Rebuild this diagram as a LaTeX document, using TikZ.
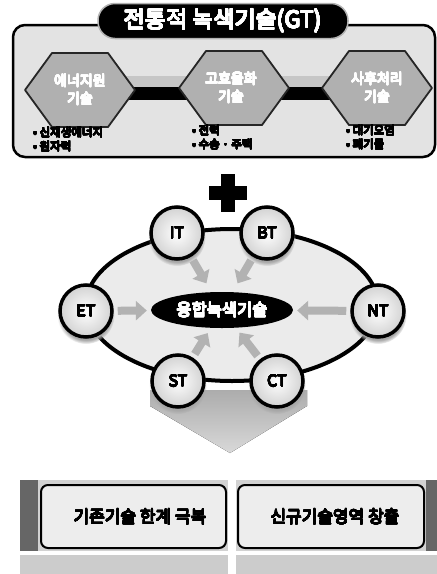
\documentclass[tikz,border=0pt]{standalone}
\usepackage{fontspec}
\setmainfont{Noto Sans CJK KR}
\usepackage{contour}
\contournumber{24}
\newcommand\bk[1]{\contourlength{0.35pt}\contour{black}{#1}}
\newcommand\wt[1]{\contourlength{0.35pt}\contour{white}{#1}}
\usetikzlibrary{shapes.geometric,arrows.meta,calc,shadows}
\begin{document}
\begin{tikzpicture}[x=1pt,y=-1pt,
  bigframe/.style={draw=black,line width=2.5pt,rounded corners=12pt,fill=gray!22},
  titlepill/.style={rectangle,rounded corners=17pt,fill=black,draw=gray!60,line width=1.5pt,text=white,
    minimum width=250pt,minimum height=35pt,font=\fontsize{23}{25}\selectfont},
  hexshape/.style={fill=gray!62,draw=black!85,line width=1.8pt,line join=round},
  hextext/.style={text=white,align=center,font=\fontsize{14}{18}\selectfont},
  tube/.style={fill=black},
  tubetop/.style={fill=gray!45},
  bullets/.style={anchor=north west,align=left,font=\fontsize{11.5}{14}\selectfont,inner sep=0pt},
  ringline/.style={draw=black,line width=4pt,fill=gray!16},
  techc/.style={circle,draw=black,line width=3.5pt,minimum size=52pt,inner sep=0pt,
    inner color=white,outer color=gray!35,font=\fontsize{16}{18}\selectfont,
    circular drop shadow={shadow xshift=0pt,shadow yshift=-4pt,fill=gray!70,opacity=1}},
  fusion/.style={ellipse,fill=black,text=white,minimum width=142pt,minimum height=36pt,inner sep=0pt,
    font=\fontsize{16.5}{18}\selectfont},
  garrow/.style={draw=gray!60,line width=8pt,-{Triangle[width=19pt,length=11pt]}},
  chevron/.style={top color=gray!65,bottom color=gray!30},
  outerbox/.style={fill=gray!35},
  darkbar/.style={fill=gray!80!black},
  innerbox/.style={draw=black,line width=2pt,rounded corners=7pt,fill=gray!14},
  boxtext/.style={font=\fontsize{17}{19}\selectfont},
  strip/.style={fill=gray!40}
]
\useasboundingbox (0,0) rectangle (437,574);
\fill[white] (0,0) rectangle (437,574);

% ---------- top: traditional green technology ----------
\draw[bigframe] (13,25) rectangle (435,157);
\node[titlepill] (T) at (223,21) {\wt{전통적 녹색기술(GT)}};

% tubes between hexagons
\fill[tubetop] (120,76) rectangle (200,87);
\fill[tube] (120,87) rectangle (200,100);
\fill[tubetop] (275,76) rectangle (345,87);
\fill[tube] (275,87) rectangle (345,100);

% hexagons
\begin{scope}[shift={(80,90)}]
\draw[hexshape] (-55,0)--(-28,-37)--(28,-37)--(55,0)--(28,37)--(-28,37)--cycle;
\end{scope}
\begin{scope}[shift={(234,88)}]
\draw[hexshape] (-55,0)--(-28,-37)--(28,-37)--(55,0)--(28,37)--(-28,37)--cycle;
\end{scope}
\begin{scope}[shift={(377,88)}]
\draw[hexshape] (-55,0)--(-28,-37)--(28,-37)--(55,0)--(28,37)--(-28,37)--cycle;
\end{scope}
\node[hextext] (h1) at (80,90) {\wt{에너지원}\\\wt{기술}};
\node[hextext] (h2) at (231,88) {\wt{고효율화}\\\wt{기술}};
\node[hextext] (h3) at (377,88) {\wt{사후처리}\\\wt{기술}};

\node[bullets] (b1) at (33,127) {\bk{• 신재생에너지}\\\bk{• 원자력}};
\node[bullets] (b2) at (192,125) {\bk{• 전력}\\\bk{• 수송 · 주택}};
\node[bullets] (b3) at (346,125) {\bk{• 대기오염}\\\bk{• 폐기물}};

% ---------- plus ----------
\fill[black] (221,174) rectangle (235,212);
\fill[black] (209,186) rectangle (247,200);

% ---------- down chevron ----------
\fill[chevron] (150,390) -- (307,390) -- (307,406) -- (230,453) -- (150,406) -- cycle;

% ---------- convergence ring ----------
\draw[ringline] (232,305) ellipse [x radius=146, y radius=76];
\node[fusion] (F) at (222,310) {\wt{융합녹색기술}};

\node[techc] (IT) at (177,233) {\bk{IT}};
\node[techc] (BT) at (267,233) {\bk{BT}};
\node[techc] (ET) at (86,311) {\bk{ET}};
\node[techc] (NT) at (378,311) {\bk{NT}};
\node[techc] (ST) at (178,381) {\bk{ST}};
\node[techc] (CT) at (277,381) {\bk{CT}};

\draw[garrow,shorten <=4pt,shorten >=10pt] (IT) -- (F);
\draw[garrow,shorten <=4pt,shorten >=10pt] (BT) -- (F);
\draw[garrow,shorten <=4pt,shorten >=4pt] (ET) -- (F);
\draw[garrow,shorten <=4pt,shorten >=4pt] (NT) -- (F);
\draw[garrow,shorten <=4pt,shorten >=6pt] (ST) -- (F);
\draw[garrow,shorten <=4pt,shorten >=6pt] (CT) -- (F);

% ---------- bottom boxes ----------
\fill[outerbox] (20,480) rectangle (228,551);
\fill[darkbar] (20,480) rectangle (38,551);
\draw[innerbox] (41,485) rectangle (226,548);
\node[boxtext] (L) at (140,517) {\bk{기존기술 한계 극복}};
\fill[strip] (20,555) rectangle (228,574);

\fill[outerbox] (236,480) rectangle (437,551);
\fill[darkbar] (426,480) rectangle (437,551);
\draw[innerbox] (238,485) rectangle (424,548);
\node[boxtext] (R) at (335,517) {\bk{신규기술영역 창출}};
\fill[strip] (236,555) rectangle (437,574);
\end{tikzpicture}
\end{document}
